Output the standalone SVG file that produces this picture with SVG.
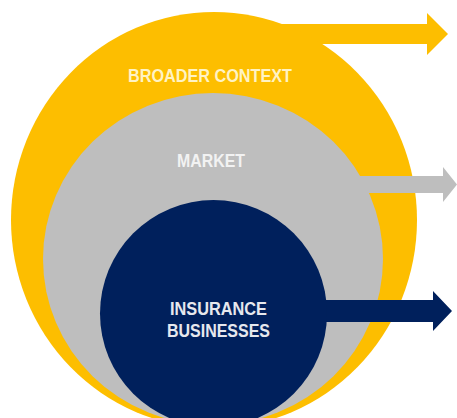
<svg xmlns="http://www.w3.org/2000/svg" width="457" height="418" viewBox="0 0 457 418">
<style>
.lbl{font-family:"Liberation Sans",Arial,sans-serif;font-weight:bold;font-size:18.5px;text-anchor:middle}
.y{fill:#FDBE00}
.g{fill:#BEBEBE}
.n{fill:#00205C}
</style>
<rect width="457" height="418" fill="#FFFFFF"/>
<g id="connectors">
<path class="y" d="M255,24 L427,24 L427,13 L448,34 L427,55 L427,44 L255,44 Z"/>
</g>
<g id="broader-context">
<ellipse class="y" cx="214" cy="220" rx="203" ry="208"/>
<text class="lbl" x="210" y="82" fill="#FFF3C4" textLength="164" lengthAdjust="spacingAndGlyphs">BROADER CONTEXT</text>
</g>
<g id="connectors-2">
<path class="g" d="M330,176 L443,176 L443,167 L457,184.5 L443,202 L443,193 L330,193 Z"/>
</g>
<g id="market">
<ellipse class="g" cx="213" cy="259" rx="170" ry="166"/>
<text class="lbl" x="211" y="167" fill="#F2F2F2" textLength="68" lengthAdjust="spacingAndGlyphs">MARKET</text>
</g>
<g id="connectors-3">
<path class="n" d="M300,300 L433,300 L433,291 L452,311 L433,331 L433,322 L300,322 Z"/>
</g>
<g id="insurance-businesses">
<circle class="n" cx="213.5" cy="313.5" r="113.5"/>
<text class="lbl" x="218.5" y="315" fill="#E6E8EE" textLength="97" lengthAdjust="spacingAndGlyphs">INSURANCE</text>
<text class="lbl" x="218.5" y="337" fill="#E6E8EE" textLength="103" lengthAdjust="spacingAndGlyphs">BUSINESSES</text>
</g>
</svg>
